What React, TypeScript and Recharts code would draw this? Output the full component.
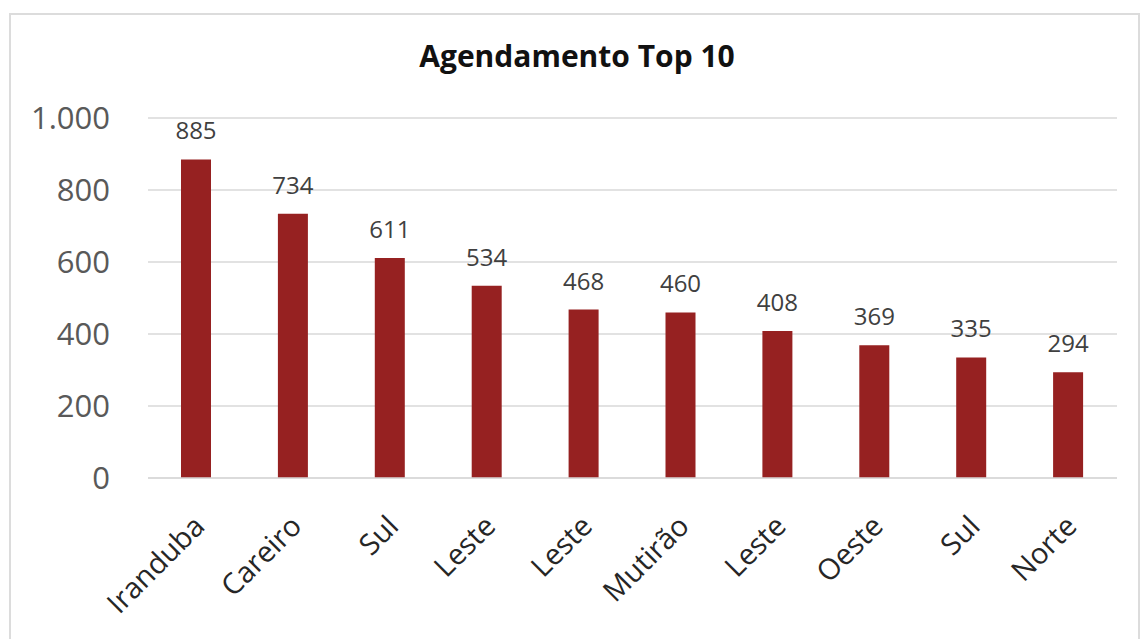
import { BarChart, Bar, XAxis, YAxis, CartesianGrid, LabelList } from "recharts";

const categories = ["Iranduba", "Careiro", "Sul", "Leste", "Leste", "Mutirão", "Leste", "Oeste", "Sul", "Norte"];
const agendamentos = [885, 734, 611, 534, 468, 460, 408, 369, 335, 294];
const yTicks = [0, 200, 400, 600, 800, 1000];

const data = categories.map((name, i) => ({ name, value: agendamentos[i] }));

const FONT = "'Open Sans', 'Noto Sans', sans-serif";

const formatThousands = (v: number) => v.toString().replace(/\B(?=(\d{3})+(?!\d))/g, ".");

const CategoryTick = ({ x, y, payload }: any) => (
  <g transform={`translate(${x + 10},${y + 50})`}>
    <text
      textAnchor="end"
      transform="rotate(-45)"
      fill="#262626"
      fontSize={29}
      fontFamily={FONT}
    >
      {payload.value}
    </text>
  </g>
);

export default function App() {
  return (
    <div style={{ position: "absolute", left: 0, top: 0, width: 1144, height: 639, background: "#fff", overflow: "hidden" }}>
      <div
        style={{
          position: "absolute",
          left: 9,
          top: 13,
          width: 1131,
          height: 626,
          border: "2px solid #dcdcdc",
          borderBottom: "none",
          boxSizing: "border-box",
        }}
      />
      <div
        style={{
          position: "absolute",
          left: 0,
          top: 36,
          width: 1154,
          textAlign: "center",
          fontFamily: FONT,
          fontWeight: 700,
          fontSize: 30,
          color: "#111",
          lineHeight: "40px",
        }}
      >
        Agendamento Top 10
      </div>
      <div style={{ position: "absolute", left: 0, top: 0 }}>
        <BarChart
          width={1144}
          height={639}
          data={data}
          margin={{ top: 118, right: 27, left: 0, bottom: 0 }}
          barSize={30}
        >
          <CartesianGrid vertical={false} stroke="#d9d9d9" strokeWidth={1.5} />
          <XAxis
            dataKey="name"
            height={161}
            axisLine={{ stroke: "#d9d9d9", strokeWidth: 1.5 }}
            tickLine={false}
            tickSize={0}
            tickMargin={0}
            interval={0}
            tick={<CategoryTick />}
          />
          <YAxis
            width={148}
            domain={[0, 1000]}
            ticks={yTicks}
            axisLine={false}
            tickLine={false}
            tickSize={0}
            tickMargin={38}
            tickFormatter={formatThousands}
            tick={{ fill: "#595959", fontSize: 31, fontFamily: FONT }}
          />
          <Bar dataKey="value" fill="#962121" isAnimationActive={false}>
            <LabelList
              dataKey="value"
              position="top"
              offset={20}
              fill="#404040"
              fontSize={24}
              fontFamily={FONT}
            />
          </Bar>
        </BarChart>
      </div>
    </div>
  );
}
